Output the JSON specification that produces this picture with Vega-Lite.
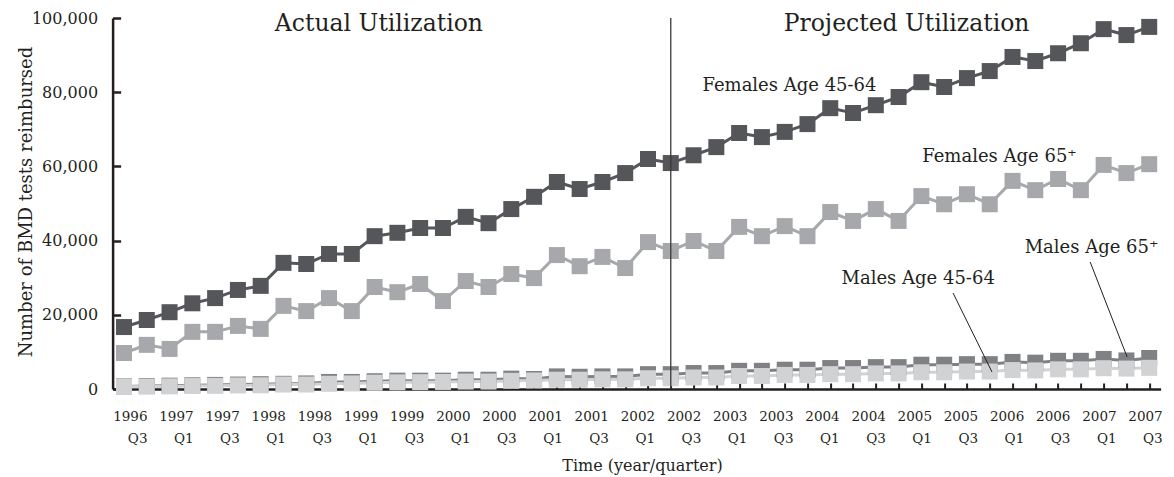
{
  "$schema": "https://vega.github.io/schema/vega-lite/v6.json",
  "width": 1048,
  "height": 371,
  "autosize": {"type": "none"},
  "padding": {"left": 112.6, "top": 18, "right": 13.4, "bottom": 88},
  "background": "white",
  "config": {
    "view": {"stroke": null},
    "axis": {"grid": false, "labelFont": "DejaVu Serif", "titleFont": "DejaVu Serif", "labelColor": "#231f20", "titleColor": "#231f20", "domainColor": "#231f20", "tickColor": "#231f20", "titleFontWeight": "normal"}
  },
  "datasets": {
    "series": [
      {"s":"Females 45-64","i":0,"v":16700},{"s":"Females 45-64","i":1,"v":18600},{"s":"Females 45-64","i":2,"v":20700},{"s":"Females 45-64","i":3,"v":23100},{"s":"Females 45-64","i":4,"v":24500},{"s":"Females 45-64","i":5,"v":26700},{"s":"Females 45-64","i":6,"v":27800},{"s":"Females 45-64","i":7,"v":34000},{"s":"Females 45-64","i":8,"v":33700},{"s":"Females 45-64","i":9,"v":36400},{"s":"Females 45-64","i":10,"v":36400},{"s":"Females 45-64","i":11,"v":41200},{"s":"Females 45-64","i":12,"v":42100},{"s":"Females 45-64","i":13,"v":43400},{"s":"Females 45-64","i":14,"v":43400},{"s":"Females 45-64","i":15,"v":46400},{"s":"Females 45-64","i":16,"v":44700},{"s":"Females 45-64","i":17,"v":48500},{"s":"Females 45-64","i":18,"v":51800},{"s":"Females 45-64","i":19,"v":55800},{"s":"Females 45-64","i":20,"v":53900},{"s":"Females 45-64","i":21,"v":55800},{"s":"Females 45-64","i":22,"v":58200},{"s":"Females 45-64","i":23,"v":62000},{"s":"Females 45-64","i":24,"v":60900},{"s":"Females 45-64","i":25,"v":63000},{"s":"Females 45-64","i":26,"v":65200},{"s":"Females 45-64","i":27,"v":69000},{"s":"Females 45-64","i":28,"v":67900},{"s":"Females 45-64","i":29,"v":69300},{"s":"Females 45-64","i":30,"v":71400},{"s":"Females 45-64","i":31,"v":75700},{"s":"Females 45-64","i":32,"v":74400},{"s":"Females 45-64","i":33,"v":76500},{"s":"Females 45-64","i":34,"v":78700},{"s":"Females 45-64","i":35,"v":82700},{"s":"Females 45-64","i":36,"v":81400},{"s":"Females 45-64","i":37,"v":83800},{"s":"Females 45-64","i":38,"v":85700},{"s":"Females 45-64","i":39,"v":89500},{"s":"Females 45-64","i":40,"v":88400},{"s":"Females 45-64","i":41,"v":90500},{"s":"Females 45-64","i":42,"v":93200},{"s":"Females 45-64","i":43,"v":97000},{"s":"Females 45-64","i":44,"v":95400},{"s":"Females 45-64","i":45,"v":97600},
      {"s":"Females 65+","i":0,"v":9700},{"s":"Females 65+","i":1,"v":11900},{"s":"Females 65+","i":2,"v":10800},{"s":"Females 65+","i":3,"v":15400},{"s":"Females 65+","i":4,"v":15400},{"s":"Females 65+","i":5,"v":17000},{"s":"Females 65+","i":6,"v":16200},{"s":"Females 65+","i":7,"v":22400},{"s":"Females 65+","i":8,"v":21000},{"s":"Females 65+","i":9,"v":24500},{"s":"Females 65+","i":10,"v":21000},{"s":"Females 65+","i":11,"v":27500},{"s":"Females 65+","i":12,"v":26100},{"s":"Females 65+","i":13,"v":28300},{"s":"Females 65+","i":14,"v":23700},{"s":"Females 65+","i":15,"v":29100},{"s":"Females 65+","i":16,"v":27500},{"s":"Females 65+","i":17,"v":31000},{"s":"Females 65+","i":18,"v":29900},{"s":"Females 65+","i":19,"v":36100},{"s":"Females 65+","i":20,"v":33100},{"s":"Females 65+","i":21,"v":35600},{"s":"Females 65+","i":22,"v":32600},{"s":"Females 65+","i":23,"v":39600},{"s":"Females 65+","i":24,"v":37200},{"s":"Females 65+","i":25,"v":39900},{"s":"Females 65+","i":26,"v":37200},{"s":"Females 65+","i":27,"v":43700},{"s":"Females 65+","i":28,"v":41200},{"s":"Females 65+","i":29,"v":43900},{"s":"Females 65+","i":30,"v":41200},{"s":"Females 65+","i":31,"v":47700},{"s":"Females 65+","i":32,"v":45300},{"s":"Females 65+","i":33,"v":48500},{"s":"Females 65+","i":34,"v":45300},{"s":"Females 65+","i":35,"v":52000},{"s":"Females 65+","i":36,"v":49800},{"s":"Females 65+","i":37,"v":52500},{"s":"Females 65+","i":38,"v":49800},{"s":"Females 65+","i":39,"v":56100},{"s":"Females 65+","i":40,"v":53600},{"s":"Females 65+","i":41,"v":56600},{"s":"Females 65+","i":42,"v":53600},{"s":"Females 65+","i":43,"v":60400},{"s":"Females 65+","i":44,"v":58200},{"s":"Females 65+","i":45,"v":60600},
      {"s":"Males 65+","i":0,"v":700},{"s":"Males 65+","i":1,"v":800},{"s":"Males 65+","i":2,"v":900},{"s":"Males 65+","i":3,"v":1000},{"s":"Males 65+","i":4,"v":1100},{"s":"Males 65+","i":5,"v":1200},{"s":"Males 65+","i":6,"v":1300},{"s":"Males 65+","i":7,"v":1400},{"s":"Males 65+","i":8,"v":1500},{"s":"Males 65+","i":9,"v":1900},{"s":"Males 65+","i":10,"v":1900},{"s":"Males 65+","i":11,"v":2100},{"s":"Males 65+","i":12,"v":2250},{"s":"Males 65+","i":13,"v":2250},{"s":"Males 65+","i":14,"v":2250},{"s":"Males 65+","i":15,"v":2500},{"s":"Males 65+","i":16,"v":2500},{"s":"Males 65+","i":17,"v":2800},{"s":"Males 65+","i":18,"v":2700},{"s":"Males 65+","i":19,"v":3400},{"s":"Males 65+","i":20,"v":3300},{"s":"Males 65+","i":21,"v":3400},{"s":"Males 65+","i":22,"v":3400},{"s":"Males 65+","i":23,"v":4000},{"s":"Males 65+","i":24,"v":4000},{"s":"Males 65+","i":25,"v":4300},{"s":"Males 65+","i":26,"v":4300},{"s":"Males 65+","i":27,"v":4900},{"s":"Males 65+","i":28,"v":4900},{"s":"Males 65+","i":29,"v":5200},{"s":"Males 65+","i":30,"v":5200},{"s":"Males 65+","i":31,"v":5650},{"s":"Males 65+","i":32,"v":5650},{"s":"Males 65+","i":33,"v":5900},{"s":"Males 65+","i":34,"v":5900},{"s":"Males 65+","i":35,"v":6550},{"s":"Males 65+","i":36,"v":6550},{"s":"Males 65+","i":37,"v":6700},{"s":"Males 65+","i":38,"v":6700},{"s":"Males 65+","i":39,"v":7300},{"s":"Males 65+","i":40,"v":7100},{"s":"Males 65+","i":41,"v":7600},{"s":"Males 65+","i":42,"v":7600},{"s":"Males 65+","i":43,"v":8100},{"s":"Males 65+","i":44,"v":7700},{"s":"Males 65+","i":45,"v":8350},
      {"s":"Males 45-64","i":0,"v":600},{"s":"Males 45-64","i":1,"v":650},{"s":"Males 45-64","i":2,"v":700},{"s":"Males 45-64","i":3,"v":800},{"s":"Males 45-64","i":4,"v":850},{"s":"Males 45-64","i":5,"v":950},{"s":"Males 45-64","i":6,"v":1000},{"s":"Males 45-64","i":7,"v":1200},{"s":"Males 45-64","i":8,"v":1200},{"s":"Males 45-64","i":9,"v":1400},{"s":"Males 45-64","i":10,"v":1500},{"s":"Males 45-64","i":11,"v":1700},{"s":"Males 45-64","i":12,"v":1800},{"s":"Males 45-64","i":13,"v":1850},{"s":"Males 45-64","i":14,"v":1900},{"s":"Males 45-64","i":15,"v":2000},{"s":"Males 45-64","i":16,"v":2000},{"s":"Males 45-64","i":17,"v":2200},{"s":"Males 45-64","i":18,"v":2300},{"s":"Males 45-64","i":19,"v":2500},{"s":"Males 45-64","i":20,"v":2500},{"s":"Males 45-64","i":21,"v":2600},{"s":"Males 45-64","i":22,"v":2600},{"s":"Males 45-64","i":23,"v":2900},{"s":"Males 45-64","i":24,"v":2900},{"s":"Males 45-64","i":25,"v":3100},{"s":"Males 45-64","i":26,"v":3100},{"s":"Males 45-64","i":27,"v":3500},{"s":"Males 45-64","i":28,"v":3500},{"s":"Males 45-64","i":29,"v":3800},{"s":"Males 45-64","i":30,"v":3800},{"s":"Males 45-64","i":31,"v":4000},{"s":"Males 45-64","i":32,"v":4000},{"s":"Males 45-64","i":33,"v":4200},{"s":"Males 45-64","i":34,"v":4200},{"s":"Males 45-64","i":35,"v":4500},{"s":"Males 45-64","i":36,"v":4500},{"s":"Males 45-64","i":37,"v":4700},{"s":"Males 45-64","i":38,"v":4700},{"s":"Males 45-64","i":39,"v":5100},{"s":"Males 45-64","i":40,"v":5000},{"s":"Males 45-64","i":41,"v":5300},{"s":"Males 45-64","i":42,"v":5300},{"s":"Males 45-64","i":43,"v":5600},{"s":"Males 45-64","i":44,"v":5500},{"s":"Males 45-64","i":45,"v":5700}
    ],
    "headers": [
      {"i": 11.19, "v": 96570, "label": "Actual Utilization"},
      {"i": 34.35, "v": 96570, "label": "Projected Utilization"}
    ],
    "seriesLabels": [
      {"i": 29.21, "v": 80320, "label": "Females Age 45-64"},
      {"i": 38.43, "v": 61190, "label": "Females Age 65⁺"},
      {"i": 42.47, "v": 36660, "label": "Males Age 65⁺"},
      {"i": 34.86, "v": 28300, "label": "Males Age 45-64"}
    ],
    "leaders": [
      {"i": 36.39, "v": 25880, "i2": 38.10, "v2": 4580},
      {"i": 42.41, "v": 34230, "i2": 44.03, "v2": 8630}
    ],
    "divider": [
      {"i": 24, "v": 0, "v2": 100000}
    ]
  },
  "resolve": {"axis": {"x": "independent"}},
  "layer": [
    {
      "data": {"name": "series"},
      "mark": {"type": "line", "strokeWidth": 3},
      "encoding": {
        "x": {"field": "i", "type": "quantitative",
          "scale": {"domain": [-0.5, 45.5], "nice": false, "zero": false},
          "axis": {"orient": "bottom", "values": [0,1,2,3,4,5,6,7,8,9,10,11,12,13,14,15,16,17,18,19,20,21,22,23,24,25,26,27,28,29,30,31,32,33,34,35,36,37,38,39,40,41,42,43,44,45],
            "labels": false, "title": null, "tickSize": -6, "tickWidth": 2, "domainWidth": 2.5}},
        "y": {"field": "v", "type": "quantitative",
          "scale": {"domain": [0, 100000], "nice": false},
          "axis": {"values": [0, 20000, 40000, 60000, 80000, 100000], "format": ",d",
            "title": "Number of BMD tests reimbursed",
            "tickSize": -8, "tickWidth": 2.5, "domainWidth": 2.5,
            "labelFontSize": 16, "labelPadding": 23, "labelBaseline": "middle",
            "titleFontSize": 18, "titleAngle": -90, "titleX": -81, "titleY": 183.5,
            "titleAlign": "center", "titleBaseline": "alphabetic"}},
        "color": {"field": "s", "type": "nominal",
          "scale": {"domain": ["Females 45-64", "Females 65+", "Males 65+", "Males 45-64"], "range": ["#555659", "#a7a8ab", "#808184", "#d1d2d4"]},
          "legend": null}
      }
    },
    {
      "data": {"name": "series"},
      "mark": {"type": "point", "shape": "square", "filled": true, "opacity": 1, "size": 256},
      "encoding": {
        "x": {"field": "i", "type": "quantitative", "axis": null},
        "y": {"field": "v", "type": "quantitative"},
        "color": {"field": "s", "type": "nominal", "legend": null}
      }
    },
    {
      "data": {"name": "divider"},
      "mark": {"type": "rule", "color": "#3a3a3a", "strokeWidth": 1.3},
      "encoding": {
        "x": {"field": "i", "type": "quantitative",
          "axis": {"orient": "bottom",
            "values": [0, 2.0255, 4.051, 6.0765, 8.102, 10.1275, 12.153, 14.1785, 16.204, 18.2295, 20.255, 22.2805, 24.306, 26.3315, 28.357, 30.3825, 32.408, 34.4335, 36.459, 38.4845, 40.51, 42.5355, 44.561],
            "ticks": false, "domain": false, "tickSize": 0,
            "labelExpr": "['' + (1996 + floor((round(datum.value / 2.0255) + 1) / 2)), round(datum.value / 2.0255) % 2 == 0 ? 'Q3' : 'Q1']",
            "labelAlign": "right", "labelBaseline": "alphabetic", "labelPadding": 31, "labelOffset": 23,
            "labelFlush": false, "labelOverlap": false, "labelBound": false,
            "labelFontSize": 13.5, "labelLineHeight": 22,
            "title": "Time (year/quarter)", "titleFontSize": 16, "titleX": 529.4, "titleY": 81,
            "titleAlign": "center", "titleBaseline": "alphabetic"}},
        "y": {"field": "v", "type": "quantitative"},
        "y2": {"field": "v2"}
      }
    },
    {
      "data": {"name": "leaders"},
      "mark": {"type": "rule", "color": "#231f20", "strokeWidth": 1},
      "encoding": {
        "x": {"field": "i", "type": "quantitative", "axis": null},
        "y": {"field": "v", "type": "quantitative"},
        "x2": {"field": "i2"},
        "y2": {"field": "v2"}
      }
    },
    {
      "data": {"name": "headers"},
      "mark": {"type": "text", "font": "DejaVu Serif", "fontSize": 23.5, "align": "center", "baseline": "alphabetic", "color": "#231f20"},
      "encoding": {
        "x": {"field": "i", "type": "quantitative", "axis": null},
        "y": {"field": "v", "type": "quantitative"},
        "text": {"field": "label"}
      }
    },
    {
      "data": {"name": "seriesLabels"},
      "mark": {"type": "text", "font": "DejaVu Serif", "fontSize": 18, "align": "center", "baseline": "alphabetic", "color": "#231f20"},
      "encoding": {
        "x": {"field": "i", "type": "quantitative", "axis": null},
        "y": {"field": "v", "type": "quantitative"},
        "text": {"field": "label"}
      }
    }
  ]
}
